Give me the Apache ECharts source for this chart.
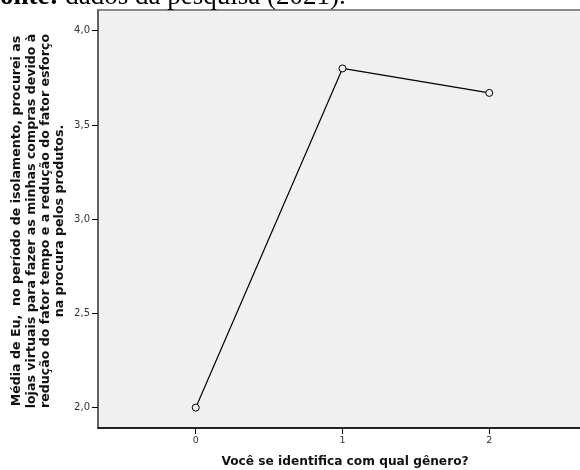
<!DOCTYPE html>
<html><head><meta charset="utf-8">
<script src="https://cdn.jsdelivr.net/npm/echarts@6/dist/echarts.min.js"></script>
<style>html,body{margin:0;padding:0;background:#fff}#c{width:580px;height:470px}</style>
</head><body><div id="c"></div>
<script>
var categories = [0, 1, 2];
var means = [2.0, 3.80, 3.67];
var yTicks = [2.0, 2.5, 3.0, 3.5, 4.0];
var xTicks = [0, 1, 2];
var xTitle = 'Você se identifica com qual gênero?';
var yTitleLines = [
  'Média de Eu,  no período de isolamento, procurei as',
  'lojas virtuais para fazer as minhas compras devido à',
  'redução do fator tempo e a redução do fator esforço',
  'na procura pelos produtos.'
];
var sourceBold = 'Fonte:';
var sourceText = ' dados da pesquisa (2021).';

var chart = echarts.init(document.getElementById('c'));
var f = 'DejaVu Sans';
chart.setOption({
  animation: false,
  grid: {left: 98, top: 10, width: 494, bottom: 42, outerBoundsMode: 'none', containLabel: false,
    show: true, backgroundColor: '#f0f0f0', borderColor: '#8a8a8a', borderWidth: 2},
  xAxis: {
    type: 'value', min: -0.666, max: 2.7,
    name: xTitle, nameLocation: 'middle', nameGap: 28,
    nameTextStyle: {fontFamily: f, fontWeight: 'bold', fontSize: 12.2, color: '#111'},
    axisLine: {show: true, onZero: false, lineStyle: {color: '#000', width: 1.5}},
    axisTick: {show: true, length: 6, customValues: xTicks, lineStyle: {color: '#000'}},
    axisLabel: {customValues: xTicks, margin: 8, fontFamily: f, fontSize: 9.5, color: '#333'},
    splitLine: {show: false}
  },
  yAxis: {
    type: 'value', min: 1.892, max: 4.11,
    axisLine: {show: true, onZero: false, lineStyle: {color: '#555', width: 1.5}},
    axisTick: {show: true, length: 6, customValues: yTicks, lineStyle: {color: '#000'}},
    axisLabel: {customValues: yTicks, margin: 8, fontFamily: f, fontSize: 10, color: '#333',
      formatter: function (v) { return v.toFixed(1).replace('.', ','); }},
    splitLine: {show: false}
  },
  series: [{
    type: 'line',
    data: categories.map(function (c, i) { return [c, means[i]]; }),
    symbol: 'circle', symbolSize: 7,
    itemStyle: {color: '#f0f0f0', borderColor: '#000', borderWidth: 1},
    lineStyle: {color: '#000', width: 1.2}
  }],
  graphic: [
    {type: 'text', x: 38.5, y: 221, rotation: Math.PI / 2,
      style: {text: yTitleLines.join('\n'), align: 'center', verticalAlign: 'middle', lineHeight: 14.3,
        font: 'bold 12.6px "DejaVu Sans"', fill: '#111'}},
    {type: 'text', x: -16.5, y: -3,
      style: {text: '{b|' + sourceBold + '}{r|' + sourceText + '}', verticalAlign: 'middle',
        rich: {b: {fontFamily: 'Liberation Serif', fontWeight: 'bold', fontSize: 27, fill: '#000'},
               r: {fontFamily: 'Liberation Serif', fontSize: 27, fill: '#000'}}}}
  ]
});
</script></body></html>
